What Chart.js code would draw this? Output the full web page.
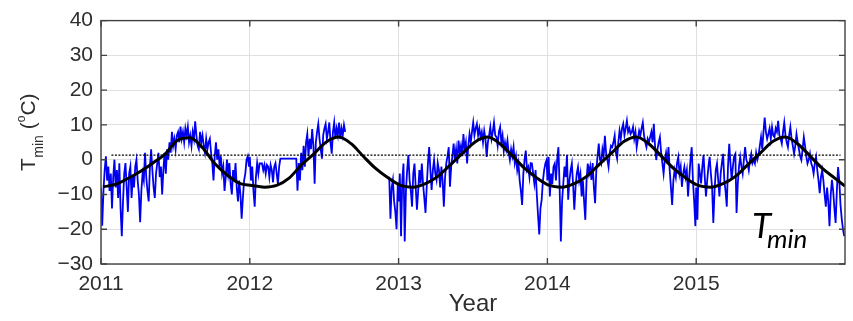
<!DOCTYPE html>
<html>
<head>
<meta charset="utf-8">
<script src="https://cdn.jsdelivr.net/npm/chart.js@4.4.1/dist/chart.umd.min.js"></script>
<style>
  html, body { margin: 0; padding: 0; background: #ffffff; }
  canvas { display: block; }
</style>
</head>
<body>
<canvas id="c" width="853" height="321"></canvas>
<script>
// ---------------- DATA ----------------
const YEARS = [2011, 2012, 2013, 2014, 2015];
const xTickLabels = [2011, 2012, 2013, 2014, 2015];
const yTickLabels = [-30, -20, -10, 0, 10, 20, 30, 40];
const SAMPLE_STEP_DAYS = 3;   // blue series read every 3 days

// Daily minimum temperature (°C), one value every 3 days from 1 Jan; null = no data
const tmin2011 = [-8, -19, -9, -3, 1, -6, -2, -9, -4, -14,
  -5, 0, -8, -3, -11, -1, -14, -22, -12, -4,
  -1, -8, -15, -4, -2, -11, -5, -8, -2, 0,
  -6, -10, -18, -9, -4, -6, 2, -5, -9, -12,
  -2, 3, -3, -8, -11, -4, -1, 2, -5, -2,
  -10, -3, 2, -4, 3, 0, 5, 2, 8, 4,
  6, 3, 7, 8, 5, 9.5, 6, 8, 5, 9,
  7, 9.5, 5, 7, 4, 8, 6, 11, 7, 4,
  3, 8, 5, 7, 4, 2, 6, 3, 5, 6,
  2, -1, -6, 1, 5, 0, 3, -2, 1, -4,
  -2, -9, -5, 0, -4, -1, -7, -10, -3, -6,
  -1, -8, -12, -6, -10, -17, -11, -6, -4, 0,
  1, -2];
const tmin2012 = [0.8, -6, -2, -9, -13.5, -5, -1, -4, -1.1, -1.1,
  -1.1, -3, -1.5, -4, -1.5, -2, -5, -1.5, -3, -6.5,
  -2, -1, -4, -7, -2, 0.3, 0.3, 0.3, 0.3, 0.3,
  0.3, 0.3, 0.3, 0.3, 0.3, 0.3, 0.3, 0.3, 0.3, -8.9,
  -1, -6, 2, -3, 4, -2, 5, 7.4, 1, 6,
  3, 8.8, 4, -6.9, 5, 8, 10.3, 6, 3, 0.3,
  7, 9, 10.3, 6, 8, 10.7, 5, 1.7, 8, 10.7,
  6, 9, 7, 10.7, 6, 9, 7, 10, 8,
  null, null, null, null, null, null, null,
  null, null, null, null, null, null, null,
  null, null, null, null, null, null, null,
  null, null, null, null, null, null, null,
  null, null, null, null, null, null, null,
  -4.9, -17, -8, -5.8, -12, -15, -20, -6.9];
const tmin2013 = [-12, -4, -22, -6, -1.1, -23.5, -9, -3, 1.3, -6,
  -9, -13.5, -4, -1.1, -8, -14.4, -9, -3, -6.8, -1.1,
  -7, -11, -15.3, -7.8, -1, 3.6, -3, -8.7, -3, -0.1,
  -4, -5.8, -1, -3, -8, -2, -6, -13.5, -5, -1,
  1, 3.6, -7.8, -2, 1, 4.6, 0, 3, -1.1, 5.5,
  2, 4, 1, 7.4, 3, 5, -1.1, 4, 7.4, 5,
  8, 10.7, 7, 9, 10.3, 7, 9, 6.5, 8, 5,
  8.3, 6, 0.8, 5, 7, 9.4, 6, 8, 10.7, 7,
  6.5, 4, 8, 9.4, 5, 7, 2.6, 5, 3, 5.5,
  2, -0.1, 3, 1, 3.6, -1, 1, -3, -1, -6,
  -9, -13, -4, 0, 2.6, -3, -2.1, -5, -1, -1.1,
  -4, -6.8, -3, -10, -16, -21.5, -14, -11.5, -6, -3,
  -1.1, -0.1];
const tmin2014 = [-6, 0.8, -10.6, -4, -7, -2, -1.1, -6, 0, 3.6,
  -8, -23.5, -12, -6.8, -2, -5, 1.3, -11.5, -6, -3,
  -1.1, -7, -14.4, -8, -4, -2.1, -6, -4, -10.6, -6,
  -12, -17.3, -6, -1.1, -4, -2, -5.8, -1, -8, -12.5,
  -3, 1, 4.6, 0, -1.1, 3, 1, 6.9, 2, 0,
  -2.1, 2, 4, 3.6, 5, 6.9, 2, 0.3, 5, 8.3,
  6, 9, 10.3, 7, 9, 11.2, 8, 9, 7.4, 8,
  9.4, 6, 8, 3.6, 6, 8.3, 7, 9, 10.7, 7,
  5, 3.6, 6, 5, 6.5, 8, 5, 10.3, 4, -0.1,
  3, 5, 6.5, 2, -1, -4, 0, 2, -1, 3.6,
  -3, -8, -13, -6, -3, -5, -1, 0.8, -4, -2,
  -7.8, -4, -2.1, -5, -3, -10.6, -5, 0, 3.6, -6,
  -12, -19.1];
const tmin2015 = [-8, -17.3, -1.1, -4, -6.8, -2, 1.3, -5, -10.6, -6,
  -2, 0.8, -4, -8, -18.2, -9, -3, -1.1, -6, -10.6,
  -4, -1, 1.7, -6, -9, -13.5, -2, 4.6, -1, -5.8,
  -2, 1, 1.7, -15.3, -7, -2, 0.8, -2, -4, 0,
  3.6, 0, -1.1, -3, 0, 1.7, -1, 0, -1.1, 2,
  0, 1.3, 4, 6.5, 3, 8, 12.1, 8, 6, 7.4,
  9, 6, 9.4, 7, 6.5, 9, 8, 11.2, 7, 6,
  4.6, 8, 10.7, 7, 5, 3.6, 7, 9.4, 6, 4,
  1.7, 4, 7.4, 5, 3, 1, -0.1, 3, 6.5, 4,
  1, -1.1, 0, 1.7, -1, -2, -4, -1, 0.8, -3,
  -6, -9.6, -5, -3, -6, -10, -13.5, -8, -12, -19.1,
  -10, -5.8, -9, -14, -18.2, -9, -2.1, -6, -13, -17,
  -20, -22];

// Smoothed seasonal curve (°C), one value per month
const smooth2011 = [-7.8, -7.1, -5.4, -3.4, -1.0, 1.6, 5.6, 6.3, 3.5, -1.1, -4.4, -6.8];
const smooth2012 = [-7.4, -7.9, -7.4, -5.3, -1.5, 1.7, 5.1, 6.5, 4.6, 0.9, -2.6, -5.3];
const smooth2013 = [-7.4, -7.9, -6.9, -4.8, -1.5, 1.9, 5.1, 6.5, 4.6, 1.1, -2.5, -5.3];
const smooth2014 = [-7.4, -7.9, -6.9, -4.8, -1.4, 1.9, 5.2, 6.5, 4.6, 1.1, -2.5, -5.3];
const smooth2015 = [-7.4, -7.9, -6.9, -4.8, -1.4, 1.9, 5.2, 6.5, 4.6, 1.1, -2.5, -5.3];
const smoothEnd2016 = -7.6;

// Mean level (dotted line)
const meanLevel = 1.3;
const meanStart = 2011.07;
const meanEnd = 2015.97;

// ---------------- build library datasets ----------------
const tminByYear = [tmin2011, tmin2012, tmin2013, tmin2014, tmin2015];
const smoothByYear = [smooth2011, smooth2012, smooth2013, smooth2014, smooth2015];

const bluePts = [];
YEARS.forEach((yr, k) => {
  tminByYear[k].forEach((v, i) => bluePts.push({ x: yr + (SAMPLE_STEP_DAYS * i) / 365, y: v }));
});
const blackPts = [];
YEARS.forEach((yr, k) => {
  smoothByYear[k].forEach((v, m) => blackPts.push({ x: yr + (m * 30.44 + 5) / 365, y: v }));
});
blackPts.push({ x: 2016, y: smoothEnd2016 });
const meanPts = [{ x: meanStart, y: meanLevel }, { x: meanEnd, y: meanLevel }];

const TICK_FONT = { family: 'Liberation Sans', size: 21 };
const TEXT_COLOR = '#2e2e2e';

const overlay = {
  id: 'overlay',
  afterDatasetsDraw(chart) {
    const { ctx, chartArea: a, scales: { x, y } } = chart;
    ctx.save();
    ctx.strokeStyle = '#404040';
    ctx.lineWidth = 1.4;
    ctx.strokeRect(a.left, a.top, a.right - a.left, a.bottom - a.top);
    const L = 6;
    ctx.beginPath();
    yTickLabels.forEach(v => {
      const py = y.getPixelForValue(v);
      ctx.moveTo(a.left, py); ctx.lineTo(a.left + L, py);
      ctx.moveTo(a.right, py); ctx.lineTo(a.right - L, py);
    });
    xTickLabels.forEach(v => {
      const px = x.getPixelForValue(v);
      ctx.moveTo(px, a.bottom); ctx.lineTo(px, a.bottom - L);
      ctx.moveTo(px, a.top); ctx.lineTo(px, a.top + L);
    });
    ctx.stroke();
    ctx.restore();
  },
  afterDraw(chart) {
    const { ctx } = chart;
    // Y axis title: T_min (°C)
    ctx.save();
    ctx.fillStyle = TEXT_COLOR;
    ctx.translate(35, 171);
    ctx.rotate(-Math.PI / 2);
    ctx.textBaseline = 'alphabetic';
    ctx.textAlign = 'left';
    let cx = 0;
    const big = '21px "Liberation Sans"', sub = '14px "Liberation Sans"', sup = '12px "Liberation Sans"';
    ctx.font = big; ctx.fillText('T', cx, 0); cx += ctx.measureText('T').width + 0.5;
    ctx.font = sub; ctx.fillText('min', cx, 8); cx += ctx.measureText('min').width;
    ctx.font = big; cx += ctx.measureText(' ').width; ctx.fillText('(', cx, 0); cx += ctx.measureText('(').width;
    ctx.font = sup; ctx.fillText('o', cx, -10); cx += ctx.measureText('o').width;
    ctx.font = big; ctx.fillText('C)', cx, 0);
    ctx.restore();

    // In-plot annotation: T_min (italic)
    ctx.save();
    ctx.fillStyle = '#000';
    ctx.textBaseline = 'alphabetic';
    ctx.textAlign = 'left';
    ctx.font = 'italic 35px Lato';
    ctx.fillText('T', 752, 238);
    ctx.font = 'italic 26px Lato';
    ctx.fillText('min', 767, 248);
    ctx.restore();
  }
};

new Chart(document.getElementById('c'), {
  type: 'line',
  data: {
    datasets: [
      { label: 'mean', data: meanPts, borderColor: '#000', borderWidth: 1.2, borderDash: [2, 1.5], pointRadius: 0, tension: 0 },
      { label: 'smooth', data: blackPts, borderColor: '#000', borderWidth: 3, pointRadius: 0, cubicInterpolationMode: 'monotone' },
      { label: 'Tmin', data: bluePts, borderColor: '#0000f0', borderWidth: 1.8, pointRadius: 0, tension: 0, spanGaps: false }
    ]
  },
  options: {
    responsive: false,
    animation: false,
    devicePixelRatio: 1,
    layout: { padding: { left: 0, right: 8, top: 17, bottom: 0 } },
    plugins: { legend: { display: false }, tooltip: { enabled: false } },
    scales: {
      x: {
        type: 'linear', min: 2011, max: 2016,
        afterBuildTicks: s => { s.ticks = xTickLabels.map(v => ({ value: v })); },
        afterFit: s => { s.height = 57; },
        grid: { color: '#e0e0e0', lineWidth: 1, drawTicks: false },
        border: { display: false },
        ticks: { font: TICK_FONT, color: TEXT_COLOR, padding: 8, maxRotation: 0, callback: v => String(v) },
        title: { display: true, text: 'Year', font: { family: 'Liberation Sans', size: 24 }, color: TEXT_COLOR, padding: { top: 0, bottom: 2 } }
      },
      y: {
        type: 'linear', min: -30, max: 40,
        afterBuildTicks: s => { s.ticks = yTickLabels.map(v => ({ value: v })); },
        afterFit: s => { s.width = 101; },
        grid: { color: '#e0e0e0', lineWidth: 1, drawTicks: false },
        border: { display: false },
        ticks: { font: TICK_FONT, color: TEXT_COLOR, padding: 8, callback: v => String(v).replace('-', '\u2212') }
      }
    }
  },
  plugins: [overlay]
});
</script>
</body>
</html>
